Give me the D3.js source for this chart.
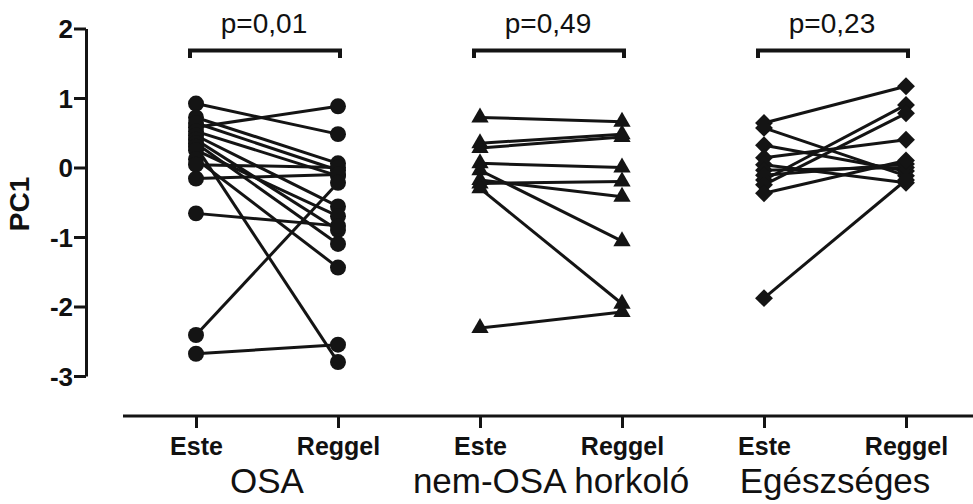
<!DOCTYPE html>
<html>
<head>
<meta charset="utf-8">
<script src="https://cdn.jsdelivr.net/npm/d3@7"></script>
<style>
  body { margin: 0; background: #fff; }
  svg text { font-family: "Liberation Sans", Arial, sans-serif; fill: #111; }
</style>
</head>
<body>
<svg width="973" height="504"></svg>
<script>
const groups = ["OSA", "nem-OSA horkoló", "Egészséges"];
const times = ["Este", "Reggel"];
const pLabels = ["p=0,01", "p=0,49", "p=0,23"];
const yTicks = [-3, -2, -1, 0, 1, 2];

// paired values, same index = same subject
const osaEste   = [0.92, 0.58, 0.72, 0.64, 0.52, 0.46, 0.40, 0.35, 0.30, 0.25, 0.12, 0.04, -0.16, -0.66, -2.41, -2.68];
const osaReggel = [0.48, 0.88, 0.06, -0.04, -0.12, -0.56, -0.90, -1.10, -2.80, -0.70, -1.44, 0.00, -0.10, -0.84, -0.22, -2.55];

const nemOsaEste   = [0.72, 0.35, 0.28, 0.06, -0.23, -0.18, -0.04, -0.30, -2.31];
const nemOsaReggel = [0.66, 0.48, 0.44, 0.00, -0.20, -0.42, -1.06, -1.96, -2.08];

const egEste   = [0.64, 0.57, 0.32, 0.14, 0.04, -0.04, -0.11, -0.18, -0.25, -0.37, -1.88];
const egReggel = [1.17, -0.12, -0.05, 0.40, -0.22, 0.00, 0.05, 0.90, 0.78, 0.10, -0.18];

const series = [
  { group: groups[0], este: osaEste, reggel: osaReggel, symbol: d3.symbolCircle, size: 200, rot: 0 },
  { group: groups[1], este: nemOsaEste, reggel: nemOsaReggel, symbol: d3.symbolTriangle, size: 130, rot: 0 },
  { group: groups[2], este: egEste, reggel: egReggel, symbol: d3.symbolSquare, size: 160, rot: 45 },
];

const svg = d3.select("svg");
const ink = "#141414";

const keys = groups.flatMap((g) => times.map((t) => g + "|" + t));
const x = d3.scalePoint().domain(keys).range([125, 977]).padding(0.5);
const y = d3.scaleLinear().domain([-3, 2]).range([376, 28.5]);

const axisY = 416, axisX = 86;

// y axis (plain hyphen for negatives, like the original)
const gy = svg.append("g")
  .attr("transform", `translate(${axisX},0)`)
  .call(d3.axisLeft(y).tickValues(yTicks).tickFormat((d) => String(d)).tickSize(12).tickSizeOuter(0).tickPadding(1));
gy.select(".domain").attr("stroke", ink).attr("stroke-width", 3);
gy.selectAll(".tick line").attr("stroke", ink).attr("stroke-width", 3);
gy.selectAll(".tick text")
  .attr("font-size", 26).attr("font-weight", "bold").attr("fill", ink)
  .attr("dy", "0.36em");

svg.append("text")
  .attr("transform", "translate(29,204) rotate(-90)")
  .attr("text-anchor", "middle")
  .attr("font-size", 28).attr("font-weight", "bold")
  .text("PC1");

// x axis
const gx = svg.append("g")
  .attr("transform", `translate(0,${axisY})`)
  .call(d3.axisBottom(x).tickSize(12).tickSizeOuter(0).tickFormat((d) => d.split("|")[1]));
gx.select(".domain").attr("d", "M123,0H973").attr("stroke", ink).attr("stroke-width", 3);
gx.selectAll(".tick line").attr("stroke", ink).attr("stroke-width", 3);
gx.selectAll(".tick text")
  .attr("font-size", 25).attr("font-weight", "bold").attr("fill", ink)
  .attr("y", 39).attr("dy", 0);

const mid = (g) => (x(g + "|" + times[0]) + x(g + "|" + times[1])) / 2;

svg.append("g").selectAll("text").data(groups).join("text")
  .attr("x", (g) => mid(g))
  .attr("y", 493)
  .attr("text-anchor", "middle")
  .attr("font-size", 35)
  .text((g) => g);

// p-value brackets
const br = svg.append("g");
groups.forEach((g, i) => {
  const x0 = x(g + "|" + times[0]) - 6, x1 = x(g + "|" + times[1]) + 2;
  br.append("path")
    .attr("d", `M${x0},58V50.5H${x1}V58`)
    .attr("fill", "none").attr("stroke", ink).attr("stroke-width", 4);
  br.append("text")
    .attr("x", mid(g) - 3).attr("y", 33)
    .attr("text-anchor", "middle")
    .attr("font-size", 28)
    .text(pLabels[i]);
});

// paired lines + markers
series.forEach((s) => {
  const xe = x(s.group + "|" + times[0]), xr = x(s.group + "|" + times[1]);
  const pairs = s.este.map((v, i) => [v, s.reggel[i]]);
  const g = svg.append("g");
  g.selectAll("line").data(pairs).join("line")
    .attr("x1", xe).attr("y1", (d) => y(d[0]))
    .attr("x2", xr).attr("y2", (d) => y(d[1]))
    .attr("stroke", ink).attr("stroke-width", 3);
  const pts = pairs.flatMap((d) => [[xe, d[0]], [xr, d[1]]]);
  const sym = d3.symbol().type(s.symbol).size(s.size);
  g.selectAll("path").data(pts).join("path")
    .attr("d", sym)
    .attr("transform", (d) => `translate(${d[0]},${y(d[1])}) rotate(${s.rot})`)
    .attr("fill", ink);
});
</script>
</body>
</html>
